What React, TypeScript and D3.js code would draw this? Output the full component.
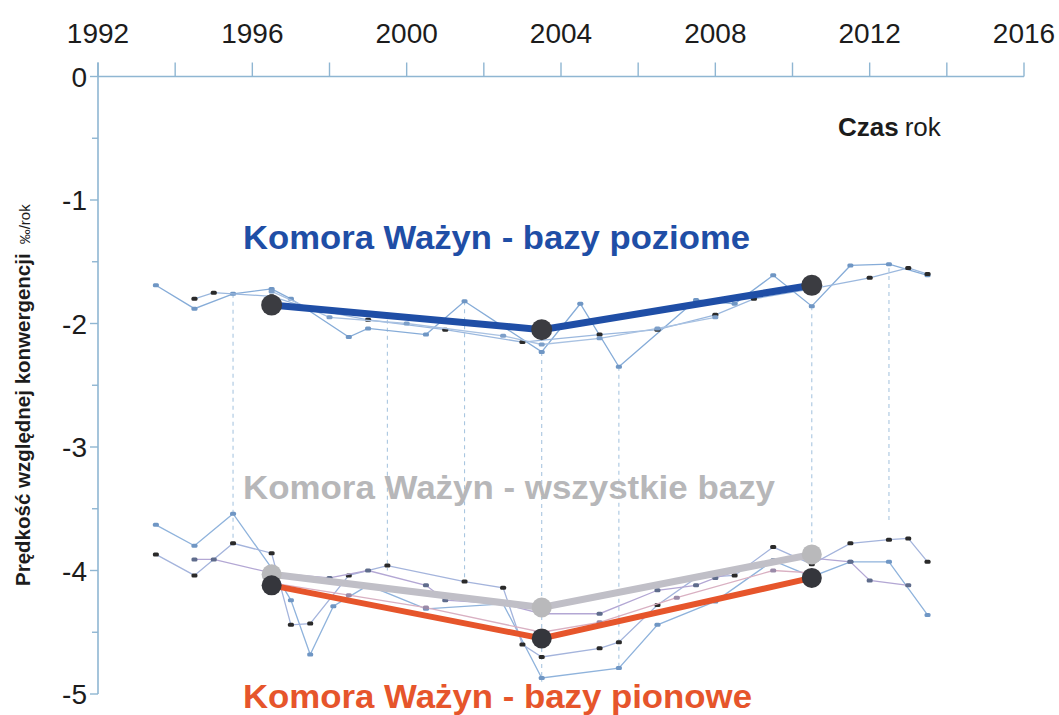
import React from "react";
import * as d3 from "d3";

// axis ticks
const xTickYears = [1992, 1994, 1996, 1998, 2000, 2002, 2004, 2006, 2008, 2010, 2012, 2014, 2016];
const xLabelYears = [1992, 1996, 2000, 2004, 2008, 2012, 2016];
const yMajor = [0, -1, -2, -3, -4, -5];
const yMinor = [-0.5, -1.5, -2.5, -3.5, -4.5];

// main (averaged) series: [year, value]
const horizMain: [number, number][] = [[1996.5, -1.85], [2003.5, -2.05], [2010.5, -1.69]];
const allMain: [number, number][] = [[1996.5, -4.03], [2003.5, -4.3], [2010.5, -3.87]];
const vertMain: [number, number][] = [[1996.5, -4.12], [2003.5, -4.55], [2010.5, -4.06]];

// individual bases - horizontal
const upper1: [number, number][] = [
  [1993.5, -1.69], [1994.5, -1.88], [1995.5, -1.76], [1996.5, -1.72], [1997.0, -1.8],
  [1998.5, -2.11], [1999.0, -2.04], [2000.5, -2.09], [2001.5, -1.82], [2003.5, -2.23],
  [2004.5, -1.84], [2005.5, -2.35], [2007.5, -1.81], [2008.5, -1.84], [2009.5, -1.61],
  [2010.5, -1.86], [2011.5, -1.53], [2012.5, -1.52], [2013.5, -1.61],
];
const upper2: [number, number][] = [
  [1994.5, -1.8], [1995.0, -1.75], [1996.5, -1.78], [1997.5, -1.88], [1999.0, -1.97],
  [2001.0, -2.05], [2003.0, -2.15], [2005.0, -2.09], [2006.5, -2.05], [2008.0, -1.93],
  [2009.0, -1.8], [2010.5, -1.72], [2012.0, -1.63], [2013.0, -1.55], [2013.5, -1.6],
];
const upper3: [number, number][] = [
  [1996.5, -1.74], [1998.0, -1.95], [2000.0, -2.0], [2002.5, -2.1], [2003.5, -2.17],
  [2005.0, -2.12], [2006.5, -2.04], [2008.0, -1.95],
];

// individual bases - vertical
const lower1: [number, number][] = [
  [1993.5, -3.63], [1994.5, -3.8], [1995.5, -3.54], [1996.5, -3.98], [1997.0, -4.24],
  [1997.5, -4.68], [1998.1, -4.29], [1999.0, -4.12], [2000.5, -4.31], [2002.5, -4.27],
  [2003.5, -4.87], [2005.5, -4.79], [2006.5, -4.44], [2008.0, -4.25], [2009.5, -3.92],
  [2010.5, -4.05], [2011.5, -3.93], [2012.5, -3.93], [2013.5, -4.36],
];
const lower2: [number, number][] = [
  [1993.5, -3.87], [1994.5, -4.04], [1995.5, -3.78], [1996.5, -3.86], [1997.0, -4.44],
  [1997.5, -4.43], [1998.5, -4.04], [1999.5, -3.96], [2001.5, -4.09], [2002.5, -4.14],
  [2003.0, -4.6], [2003.5, -4.7], [2005.0, -4.63], [2005.5, -4.58], [2006.5, -4.28],
  [2007.5, -4.06], [2008.5, -4.04], [2009.5, -3.81], [2010.5, -3.95], [2011.5, -3.78],
  [2012.5, -3.75], [2013.0, -3.74], [2013.5, -3.93],
];
const lower3: [number, number][] = [
  [1994.5, -3.91], [1995.0, -3.91], [1996.5, -4.02], [1998.0, -4.06], [1999.0, -4.0],
  [2000.5, -4.12], [2001.0, -4.24], [2002.5, -4.27], [2003.5, -4.35], [2005.0, -4.35],
  [2006.5, -4.16], [2007.5, -4.12], [2008.0, -4.06], [2009.5, -3.92], [2010.5, -3.9],
  [2011.5, -3.93], [2012.0, -4.08], [2013.0, -4.12],
];
const lower4: [number, number][] = [
  [1996.5, -4.1], [1998.5, -4.2], [2000.5, -4.3], [2003.5, -4.5], [2005.0, -4.42],
  [2007.0, -4.22], [2009.5, -4.0], [2010.5, -4.02],
];

// dashed links between the two groups: [year, top value, bottom value]
const links: [number, number, number][] = [
  [1995.5, -1.76, -3.8],
  [1999.5, -1.97, -4.0],
  [2001.5, -1.82, -4.1],
  [2003.5, -2.23, -4.9],
  [2005.5, -2.35, -4.8],
  [2010.5, -1.86, -4.05],
  [2012.5, -1.55, -3.6],
];

const thinSeries = [
  { data: upper1, color: "#86acd8", marker: "#6f96c4" },
  { data: upper2, color: "#9bb8de", marker: "#2a2a2a" },
  { data: upper3, color: "#a9c2e2", marker: "#7d9fc9" },
  { data: lower1, color: "#8fb3dc", marker: "#6f96c4" },
  { data: lower2, color: "#a4b4dc", marker: "#2a2a2a" },
  { data: lower3, color: "#b3a7d4", marker: "#5f6c8c" },
  { data: lower4, color: "#d9b0c2", marker: "#9a8aa8" },
];

const W = 1059;
const H = 715;
const font = "'Liberation Sans', Arial, sans-serif";

export default function App() {
  const x = d3.scaleLinear().domain([1992, 2016]).range([98, 1024]);
  const y = d3.scaleLinear().domain([0, -5]).range([76.5, 694]);
  const line = d3
    .line<[number, number]>()
    .x((d) => x(d[0]))
    .y((d) => y(d[1]));
  const axisColor = "#8fb6d2";

  return (
    <svg
      width={W}
      height={H}
      style={{ position: "absolute", left: 0, top: 0, background: "#fff" }}
      fontFamily={font}
    >
      {/* axes */}
      <line x1={x(1992)} x2={x(2016)} y1={y(0)} y2={y(0)} stroke={axisColor} strokeWidth={1.6} />
      <line x1={x(1992)} x2={x(1992)} y1={y(0) - 14} y2={y(-5)} stroke={axisColor} strokeWidth={1.6} />
      {xTickYears.map((t) => (
        <line key={t} x1={x(t)} x2={x(t)} y1={y(0) - 14} y2={y(0)} stroke={axisColor} strokeWidth={1.4} />
      ))}
      {xLabelYears.map((t) => (
        <text key={t} x={x(t)} y={43} textAnchor="middle" fontSize={28} fill="#1c1c1c">
          {t}
        </text>
      ))}
      {yMajor.map((t) => (
        <g key={t}>
          <line x1={x(1992) - 8} x2={x(1992)} y1={y(t)} y2={y(t)} stroke={axisColor} strokeWidth={1.4} />
          <text x={87} y={y(t)} dy="0.36em" textAnchor="end" fontSize={28} fill="#1c1c1c">
            {t === 0 ? "0" : `-${Math.abs(t)}`}
          </text>
        </g>
      ))}
      {yMinor.map((t) => (
        <line key={t} x1={x(1992) - 6} x2={x(1992)} y1={y(t)} y2={y(t)} stroke={axisColor} strokeWidth={1.4} />
      ))}

      <text x={838} y={136} fontSize={26} fill="#1c1c1c">
        <tspan fontWeight="bold">Czas</tspan>
        <tspan dx={6}>rok</tspan>
      </text>

      <text transform="translate(30,586) rotate(-90)" fontSize={20.5} fill="#1c1c1c">
        <tspan fontWeight="bold">Prędkość względnej konwergencji</tspan>
        <tspan dx={9} fontSize={15}>‰/rok</tspan>
      </text>

      {/* dashed links */}
      {links.map(([yr, a, b]) => (
        <line
          key={yr}
          x1={x(yr)}
          x2={x(yr)}
          y1={y(a)}
          y2={y(b)}
          stroke="#a9c6e0"
          strokeWidth={1.1}
          strokeDasharray="4 4"
        />
      ))}

      {/* individual bases */}
      {thinSeries.map((s, i) => (
        <g key={i}>
          <path d={line(s.data) ?? ""} fill="none" stroke={s.color} strokeWidth={1.3} />
          {s.data.map((d, j) => (
            <rect
              key={j}
              x={x(d[0]) - 3}
              y={y(d[1]) - 2}
              width={6}
              height={4}
              rx={1.5}
              fill={s.marker}
            />
          ))}
        </g>
      ))}

      {/* averaged lines */}
      <path d={line(allMain) ?? ""} fill="none" stroke="#c0bfc7" strokeWidth={7} />
      <path d={line(vertMain) ?? ""} fill="none" stroke="#e6552b" strokeWidth={6} />
      <path d={line(horizMain) ?? ""} fill="none" stroke="#1f4ea6" strokeWidth={7} />
      {allMain.map((d, i) => (
        <circle key={i} cx={x(d[0])} cy={y(d[1])} r={10} fill="#b9b9bb" />
      ))}
      {vertMain.map((d, i) => (
        <circle key={i} cx={x(d[0])} cy={y(d[1])} r={10} fill="#35363c" />
      ))}
      {horizMain.map((d, i) => (
        <circle key={i} cx={x(d[0])} cy={y(d[1])} r={10.5} fill="#3b3c41" />
      ))}

      {/* series titles */}
      <text x={243} y={249} fontSize={34} fontWeight="bold" fill="#1f4ea6" textLength={507} lengthAdjust="spacingAndGlyphs">
        Komora Ważyn - bazy poziome
      </text>
      <text x={243} y={499} fontSize={34} fontWeight="bold" fill="#b7b7b9" textLength={532} lengthAdjust="spacingAndGlyphs">
        Komora Ważyn - wszystkie bazy
      </text>
      <text x={243} y={708} fontSize={34} fontWeight="bold" fill="#e6552b" textLength={509} lengthAdjust="spacingAndGlyphs">
        Komora Ważyn - bazy pionowe
      </text>
    </svg>
  );
}
